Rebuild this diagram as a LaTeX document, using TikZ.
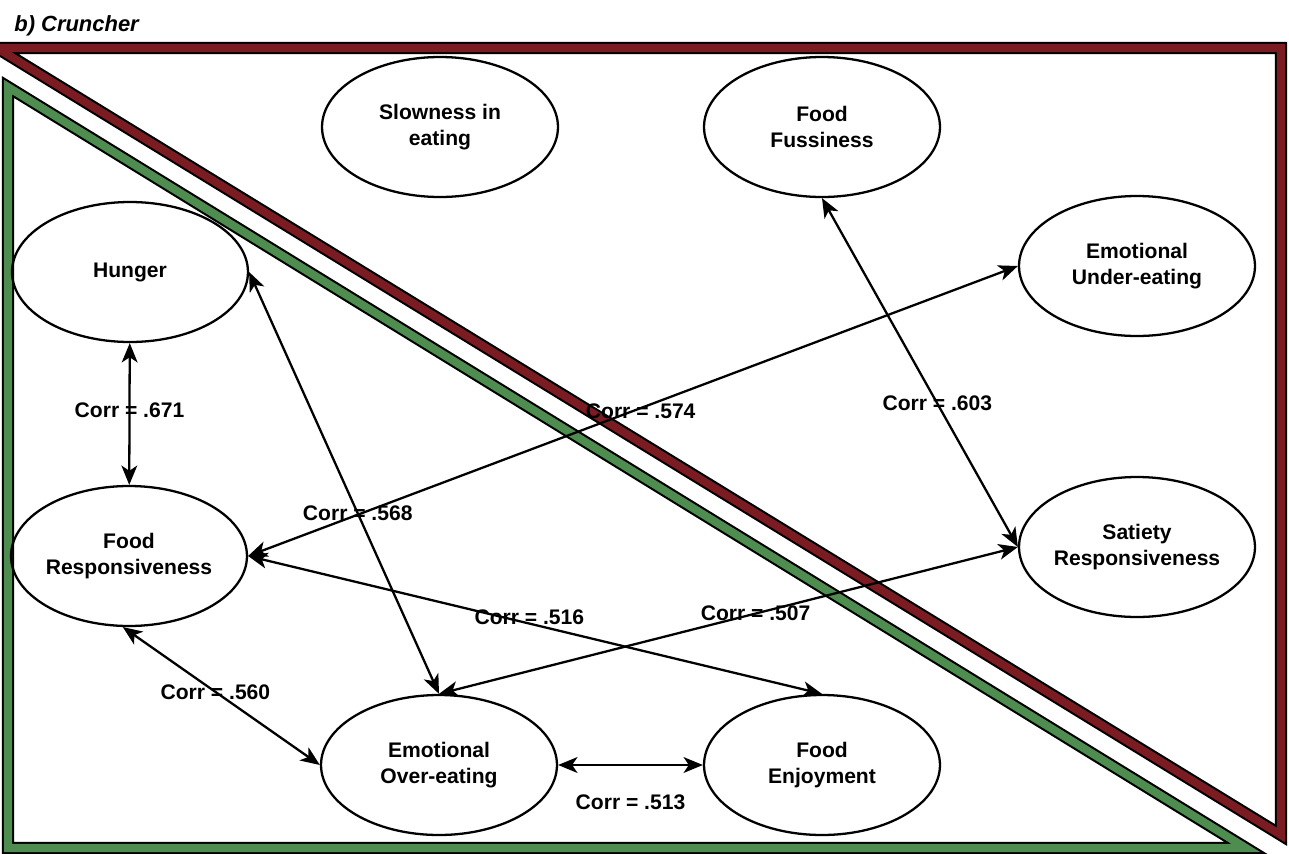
\documentclass[tikz,border=0pt]{standalone}
\usepackage{fontspec}
\setmainfont{Liberation Sans}
\usetikzlibrary{shapes.geometric,arrows.meta}
\definecolor{frred}{HTML}{7A1C22}
\definecolor{frgreen}{HTML}{4F8C4F}
\tikzset{
  factor/.style={ellipse, draw, line width=1.3pt, inner sep=0pt,
    minimum width=4.72cm, minimum height=2.8cm, align=center,
    font=\fontsize{12}{14.5}\selectfont\bfseries},
  biarrow/.style={line width=1.3pt, {Stealth[length=11pt,width=9pt,inset=3pt]}-{Stealth[length=11pt,width=9pt,inset=3pt]}},
  lbl/.style={font=\fontsize{12}{14}\selectfont\bfseries, inner sep=0pt},
  frameout/.style={line width=7pt, black, line join=miter},
  framein/.style={line width=4.6pt, line join=miter}
}
\begin{document}
\begin{tikzpicture}[x=0.02cm, y=-0.02cm]
\useasboundingbox (0,0) rectangle (1289,853);
% red triangle
\draw[frameout] (-3,48) -- (1281,48) -- (1281,835) -- cycle;
\draw[framein, frred] (-3,48) -- (1281,48) -- (1281,835) -- cycle;
% green triangle
\draw[frameout] (8,87) -- (8,848) -- (1246,848) -- cycle;
\draw[framein, frgreen] (8,87) -- (8,848) -- (1246,848) -- cycle;
% title
\node[anchor=west, inner sep=0pt, font=\fontsize{12.5}{14}\selectfont\bfseries\itshape] (title) at (14,26) {b) Cruncher};
% factors
\node[factor] (slow) at (440,127) {Slowness in\\eating};
\node[factor] (ff) at (822,127) {Food\\Fussiness};
\node[factor] (hun) at (130,272) {Hunger};
\node[factor] (eu) at (1137,266) {Emotional\\Under-eating};
\node[factor] (fr) at (129,556) {Food\\Responsiveness};
\node[factor] (sr) at (1137,547) {Satiety\\Responsiveness};
\node[factor] (eo) at (439,765) {Emotional\\Over-eating};
\node[factor] (fe) at (822,765) {Food\\Enjoyment};
% correlations
\draw[biarrow] (hun) -- (fr) node[lbl, pos=0.47] {Corr = .671};
\draw[biarrow] (hun.east) -- (eo.north) node[lbl, pos=0.572] {Corr = .568};
\draw[biarrow] (fr.east) -- (eu.west) node[lbl, pos=0.51, yshift=-0.06cm] {Corr = .574};
\draw[biarrow] (fr.east) -- (fe.north) node[lbl, pos=0.49, yshift=0.12cm] {Corr = .516};
\draw[biarrow] (eo.north) -- (sr.west) node[lbl, pos=0.547] {Corr = .507};
\draw[biarrow] (fr.-95) -- (eo.west) node[lbl, pos=0.47] {Corr = .560};
\draw[biarrow] (eo.east) -- (fe.west) node[lbl, midway, yshift=-0.74cm] {Corr = .513};
\draw[biarrow] (ff.south) -- (sr.west) node[lbl, pos=0.589] {Corr = .603};
\end{tikzpicture}
\end{document}
